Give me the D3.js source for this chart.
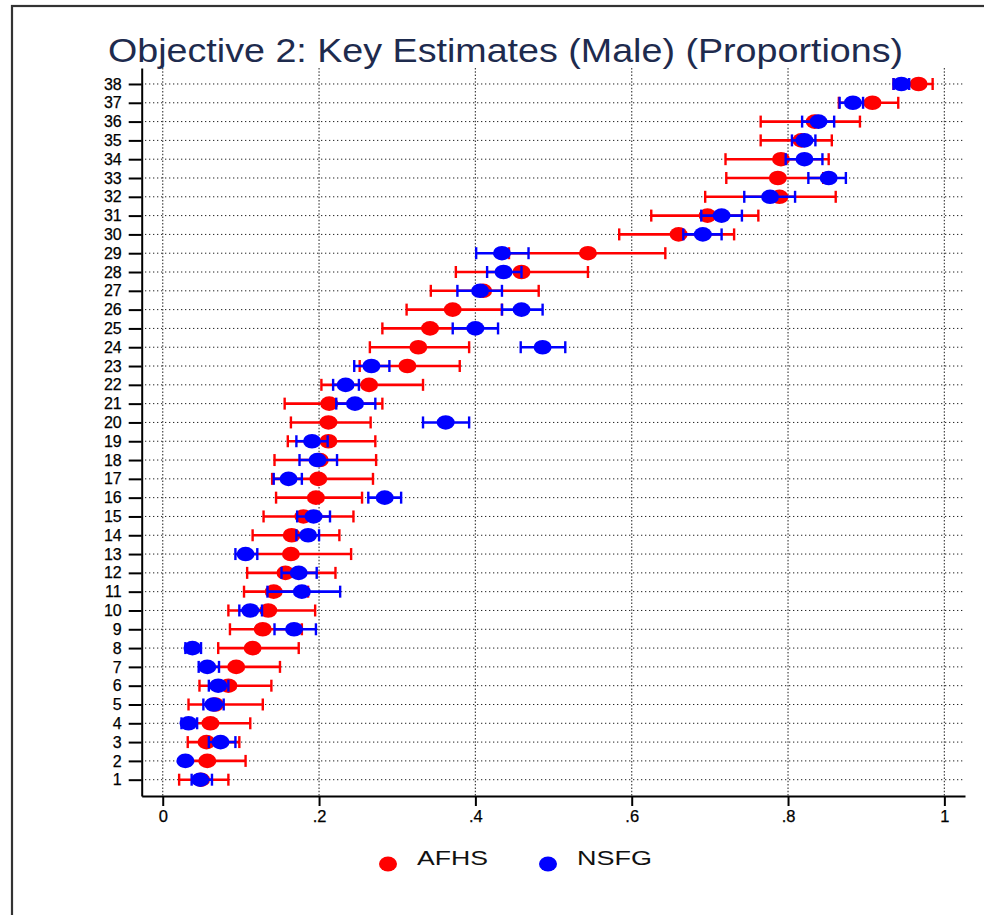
<!DOCTYPE html>
<html>
<head>
<meta charset="utf-8">
<script src="https://cdn.jsdelivr.net/npm/d3@7/dist/d3.min.js"></script>
<style>
  html, body { margin: 0; padding: 0; background: #fff; }
  svg { display: block; font-family: "Liberation Sans", Arial, sans-serif; }
</style>
</head>
<body>
<svg id="chart" width="984" height="915"></svg>
<script>
// Outcome rows 1..38
const rows = d3.range(1, 39);

// AFHS estimates and 95% interval bounds
const afhsEst = [0.049,0.057,0.056,0.061,0.067,0.084,0.094,0.115,0.128,0.135,0.142,0.157,0.164,0.165,0.180,0.196,0.199,0.201,0.212,0.212,0.213,0.264,0.313,0.327,0.342,0.371,0.410,0.459,0.544,0.660,0.697,0.789,0.787,0.791,0.817,0.834,0.908,0.967];
const afhsLo  = [0.021,0.025,0.032,0.030,0.033,0.047,0.055,0.071,0.086,0.084,0.104,0.108,0.105,0.115,0.129,0.145,0.140,0.143,0.160,0.164,0.156,0.203,0.252,0.265,0.281,0.312,0.343,0.375,0.443,0.584,0.625,0.694,0.721,0.720,0.765,0.765,0.865,0.935];
const afhsHi  = [0.084,0.106,0.098,0.112,0.128,0.139,0.150,0.174,0.178,0.195,0.186,0.221,0.241,0.226,0.244,0.255,0.269,0.273,0.272,0.266,0.281,0.333,0.380,0.392,0.400,0.434,0.481,0.544,0.643,0.731,0.762,0.861,0.845,0.852,0.856,0.892,0.941,0.985];

// NSFG estimates and 95% interval bounds
const nsfgEst = [0.048,0.029,0.074,0.033,0.065,0.071,0.057,0.038,0.168,0.112,0.178,0.174,0.106,0.186,0.193,0.284,0.161,0.198,0.191,0.362,0.246,0.234,0.267,0.486,0.400,0.459,0.406,0.436,0.434,0.691,0.715,0.777,0.852,0.821,0.821,0.839,0.883,0.945];
const nsfgLo  = [0.037,0.024,0.059,0.024,0.052,0.059,0.046,0.029,0.143,0.098,0.134,0.152,0.093,0.171,0.172,0.263,0.142,0.175,0.171,0.333,0.222,0.218,0.245,0.458,0.371,0.434,0.377,0.415,0.401,0.666,0.689,0.744,0.826,0.797,0.805,0.818,0.866,0.935];
const nsfgHi  = [0.063,0.034,0.093,0.044,0.078,0.084,0.072,0.049,0.196,0.127,0.227,0.197,0.121,0.200,0.214,0.305,0.178,0.223,0.211,0.392,0.272,0.251,0.290,0.515,0.429,0.486,0.434,0.459,0.468,0.715,0.741,0.809,0.874,0.844,0.835,0.859,0.896,0.955];

const xTicks = [0, 0.2, 0.4, 0.6, 0.8, 1];
const xTickLabels = ["0", ".2", ".4", ".6", ".8", "1"];
const seriesNames = ["AFHS", "NSFG"];
const seriesColors = ["#ff0000", "#0000ff"];
const titleText = "Objective 2: Key Estimates (Male) (Proportions)";

const series = [
  { name: seriesNames[0], color: seriesColors[0], est: afhsEst, lo: afhsLo, hi: afhsHi },
  { name: seriesNames[1], color: seriesColors[1], est: nsfgEst, lo: nsfgLo, hi: nsfgHi }
];

const svg = d3.select("#chart");

// outer frame of the graph region
svg.append("rect")
  .attr("x", 12).attr("y", 6).attr("width", 1100).attr("height", 1100)
  .attr("fill", "none").attr("stroke", "#333").attr("stroke-width", 2.2);

const x = d3.scaleLinear().domain([-0.0269, 1.0264]).range([141.7, 965]);
const y = d3.scaleLinear().domain([0.133, 38.85]).range([796, 68]);

// title
svg.append("text")
  .attr("x", 108).attr("y", 62)
  .attr("font-size", 34)
  .attr("fill", "#1e2b4e")
  .attr("textLength", 795).attr("lengthAdjust", "spacingAndGlyphs")
  .text(titleText);

// dotted grid
const grid = svg.append("g");
grid.selectAll("line.h").data(rows).join("line")
  .attr("class", "h")
  .attr("x1", 145).attr("x2", 963)
  .attr("y1", d => y(d)).attr("y2", d => y(d))
  .attr("stroke", "#222").attr("stroke-width", 1)
  .attr("stroke-dasharray", "1.3,2.7");
grid.selectAll("line.v").data(xTicks).join("line")
  .attr("class", "v")
  .attr("x1", d => x(d)).attr("x2", d => x(d))
  .attr("y1", 68).attr("y2", 796)
  .attr("stroke", "#444").attr("stroke-width", 1.2)
  .attr("stroke-dasharray", "1.5,1.8");

// axes
const yAxis = d3.axisLeft(y).tickValues(rows).tickFormat(d3.format("d"))
  .tickSizeInner(13).tickSizeOuter(0).tickPadding(7);
const gy = svg.append("g").attr("transform", `translate(${x.range()[0]},0)`).call(yAxis);
gy.attr("font-size", null).attr("font-family", null);
gy.select(".domain").attr("stroke", "#000").attr("stroke-width", 2);
gy.selectAll(".tick line").attr("stroke", "#000").attr("stroke-width", 2);
gy.selectAll(".tick text").style("font-size", "16px").attr("fill", "#000")
  .attr("stroke", "#000").attr("stroke-width", 0.25);

const xAxis = d3.axisBottom(x).tickValues(xTicks)
  .tickFormat((d, i) => xTickLabels[i])
  .tickSizeInner(10).tickSizeOuter(0).tickPadding(4);
const gx = svg.append("g").attr("transform", `translate(0,${y.range()[0]})`).call(xAxis);
gx.attr("font-size", null).attr("font-family", null);
gx.select(".domain").attr("stroke", "#000").attr("stroke-width", 2);
gx.selectAll(".tick line").attr("stroke", "#000").attr("stroke-width", 2);
gx.selectAll(".tick text").style("font-size", "16.5px").attr("fill", "#000")
  .attr("stroke", "#000").attr("stroke-width", 0.25);

// capped interval bars and point estimates, AFHS first then NSFG on top
const capHalf = 6;
series.forEach(s => {
  const g = svg.append("g");
  const recs = rows.map((r, i) => ({ r, est: s.est[i], lo: s.lo[i], hi: s.hi[i] }));
  g.selectAll("line.bar").data(recs).join("line")
    .attr("x1", d => x(d.lo)).attr("x2", d => x(d.hi))
    .attr("y1", d => y(d.r)).attr("y2", d => y(d.r))
    .attr("stroke", s.color).attr("stroke-width", 2.6);
  g.selectAll("line.lo").data(recs).join("line")
    .attr("x1", d => x(d.lo)).attr("x2", d => x(d.lo))
    .attr("y1", d => y(d.r) - capHalf).attr("y2", d => y(d.r) + capHalf)
    .attr("stroke", s.color).attr("stroke-width", 2.4);
  g.selectAll("line.hi").data(recs).join("line")
    .attr("x1", d => x(d.hi)).attr("x2", d => x(d.hi))
    .attr("y1", d => y(d.r) - capHalf).attr("y2", d => y(d.r) + capHalf)
    .attr("stroke", s.color).attr("stroke-width", 2.4);
  g.selectAll("ellipse").data(recs).join("ellipse")
    .attr("cx", d => x(d.est)).attr("cy", d => y(d.r))
    .attr("rx", 9).attr("ry", 7.3)
    .attr("fill", s.color);
});

// legend
const legend = svg.append("g");
const legendX = [388, 548];
const legendTextWidth = [71, 75];
series.forEach((s, i) => {
  legend.append("ellipse")
    .attr("cx", legendX[i]).attr("cy", 864)
    .attr("rx", 9).attr("ry", 7.5).attr("fill", s.color);
  legend.append("text")
    .attr("x", legendX[i] + 29).attr("y", 865)
    .attr("font-size", 21).attr("fill", "#111")
    .attr("textLength", legendTextWidth[i]).attr("lengthAdjust", "spacingAndGlyphs")
    .text(s.name);
});
</script>
</body>
</html>
